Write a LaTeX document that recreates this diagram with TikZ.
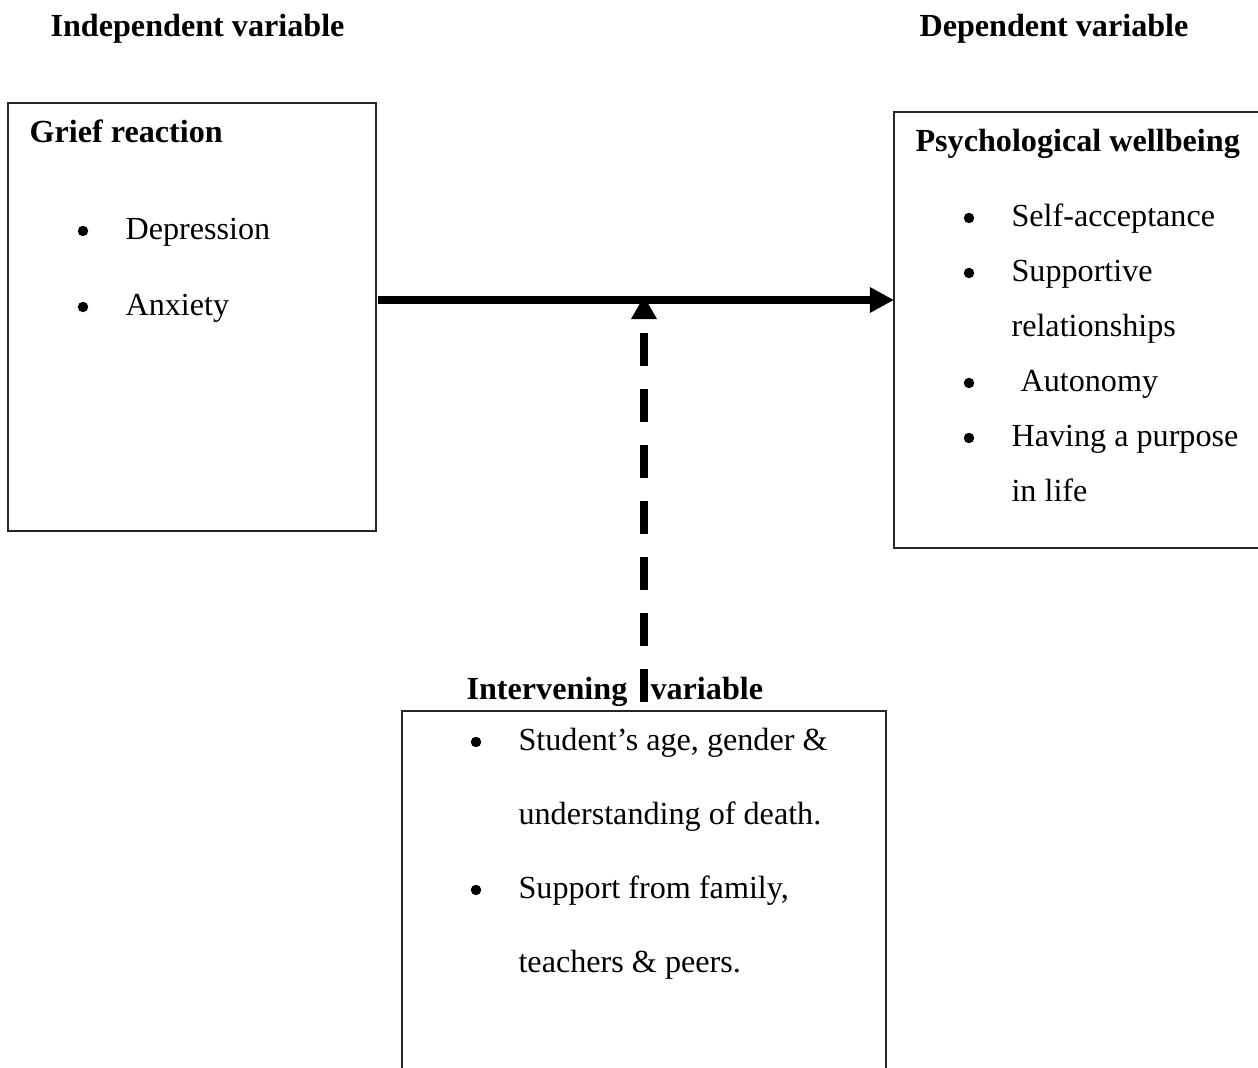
\documentclass[tikz,border=0pt]{standalone}
\usepackage{fontspec}
\setmainfont{Liberation Serif}
\usetikzlibrary{arrows.meta}
\tikzset{
  txt/.style={inner sep=0pt, anchor=base west, font=\fontsize{12}{14}\selectfont},
  head/.style={txt, font=\fontsize{12}{14}\selectfont\bfseries},
  dot/.style={circle, fill=black, inner sep=0pt, minimum size=3.9pt},
  frame/.style={line width=0.7pt, black!85},
  flow/.style={line width=3pt, -{Triangle[length=9pt,width=9pt]}},
  moderate/.style={line width=3.3pt, dash pattern=on 12.3pt off 8.6pt, -{Triangle[length=8.6pt,width=9pt]}}
}

\begin{document}
\begin{tikzpicture}[x=0.3731pt, y=-0.3731pt]
\useasboundingbox (0,0) rectangle (1258,1068);
% variable headings
\node[head] (indep) at (50,37) {Independent variable};
\node[head] (dep) at (919,37) {Dependent variable};
% boxes
\draw[frame] (8,103) rectangle (376,531);
\draw[frame] (1258,112) -- (894,112) -- (894,548) -- (1258,548);
\draw[frame] (402,1068) -- (402,711) -- (886,711) -- (886,1068);
% grief reaction
\node[head] (grief) at (29,143) {Grief reaction};
\node[dot] (g1) at (83,231) {};
\node[txt] (depr) at (125,240) {Depression};
\node[dot] (g2) at (83,307) {};
\node[txt] (anx) at (125,316) {Anxiety};
% psychological wellbeing
\node[head] (psych) at (915,152) {Psychological wellbeing};
\node[dot] (p1) at (969,218) {};
\node[txt] (selfacc) at (1011,227) {Self-acceptance};
\node[dot] (p2) at (969,273) {};
\node[txt] (support) at (1011,282) {Supportive};
\node[txt] (relat) at (1011,337) {relationships};
\node[dot] (p3) at (969,383) {};
\node[txt] (auton) at (1020,392) {Autonomy};
\node[dot] (p4) at (969,438) {};
\node[txt] (purpose) at (1011,447) {Having a purpose};
\node[txt] (life) at (1011,502) {in life};
% intervening variable
\node[head] (interv) at (466,700) {Intervening};
\node[head] (intervb) at (650,700) {variable};
\node[dot] (i1) at (476,742) {};
\node[txt] (age) at (518,751) {Student’s age, gender \&};
\node[txt] (death) at (518,825) {understanding of death.};
\node[dot] (i2) at (476,890) {};
\node[txt] (family) at (518,899) {Support from family,};
\node[txt] (peers) at (518,973) {teachers \& peers.};
% connectors
\coordinate (from) at (378,300);
\coordinate (to) at (894,300);
\coordinate (meet) at (644,296);
\coordinate (foot) at (644,702);
\draw[flow] (from) -- (to);
\draw[moderate] (foot) -- (meet);
\end{tikzpicture}
\end{document}
